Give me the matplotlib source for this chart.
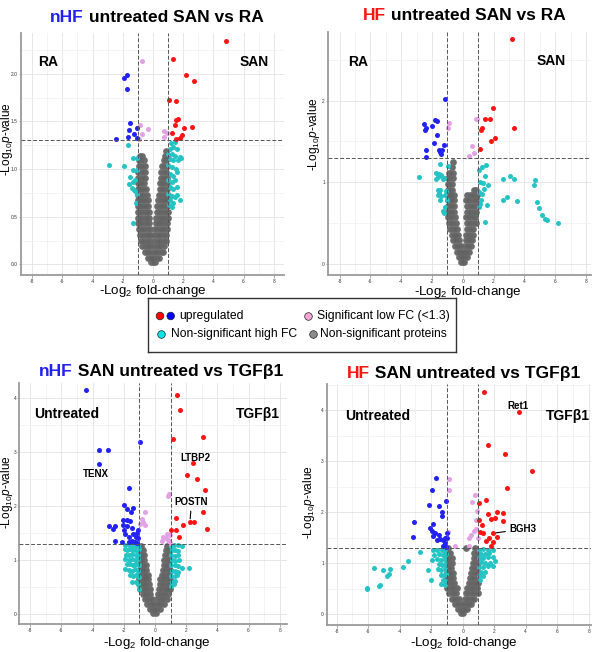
import matplotlib
matplotlib.use('Agg')
import matplotlib.pyplot as plt
from matplotlib.ticker import MultipleLocator, FormatStrFormatter

plt.rcParams['font.family'] = ['Liberation Sans', 'DejaVu Sans']
plt.rcParams['mathtext.fontset'] = 'custom'
plt.rcParams['mathtext.rm'] = 'Liberation Sans'
plt.rcParams['mathtext.it'] = 'Liberation Sans:italic'

# ---- data: (log2 fold-change, -log10 p) ----
p1_red = [(4.81, 2.34), (1.35, 2.15), (2.19, 1.99), (2.74, 1.92), (1.08, 1.72), (1.50, 1.71),
          (1.50, 1.51), (1.68, 1.52), (1.46, 1.46), (2.58, 1.44), (2.08, 1.43), (1.24, 1.38),
          (1.94, 1.36), (1.79, 1.33), (1.52, 1.31)]
p1_blue = [(-1.92, 1.96), (-1.70, 1.99), (-1.74, 1.84), (-1.52, 1.48), (-1.57, 1.41), (-1.08, 1.43),
           (-1.24, 1.37), (-1.68, 1.34), (-1.04, 1.33), (-2.45, 1.32)]
p1_pink = [(-0.72, 2.13), (-0.86, 1.46), (-0.31, 1.42), (-0.75, 1.37), (-0.9, 1.31), (0.73, 1.40),
           (0.95, 1.38), (0.73, 1.34)]
p1_cyan = [(-1.68, 1.25), (-2.89, 1.04), (-1.92, 1.03), (-1.30, 1.12), (-1.08, 1.12), (-1.52, 0.92),
           (-1.30, 0.99), (-1.08, 0.99), (-1.57, 0.84), (-1.34, 0.86), (-1.19, 0.89), (-1.41, 0.80),
           (-1.26, 0.78), (-1.13, 0.76), (-1.08, 0.74), (-1.13, 0.64), (-1.30, 0.43),
           (1.2, 1.27), (1.45, 1.28), (1.1, 1.21), (1.35, 1.23), (1.58, 1.21), (1.02, 1.16),
           (1.25, 1.16), (1.45, 1.14), (1.78, 1.13), (1.12, 1.11), (1.35, 1.09), (1.68, 1.09),
           (1.88, 1.12), (1.02, 1.04), (1.25, 1.02), (1.52, 1.0), (1.12, 0.95), (1.35, 0.93),
           (1.57, 0.97), (1.02, 0.88), (1.25, 0.86), (1.45, 0.88), (1.12, 0.81), (1.35, 0.79),
           (1.57, 0.81), (1.02, 0.74), (1.25, 0.72), (1.45, 0.71), (1.12, 0.68), (1.35, 0.64),
           (1.79, 0.67), (1.6, 0.73), (1.25, 0.6), (1.05, 0.62)]
p1_grey = [
    (0.02, [-0.15, 0.0, 0.15]),
    (0.07, [-0.35, -0.2, -0.05, 0.1, 0.25, 0.4]),
    (0.13, [-0.55, -0.4, -0.25, -0.1, 0.05, 0.2, 0.35, 0.5, 0.65]),
    (0.19, [-0.7, -0.55, -0.4, -0.25, -0.1, 0.1, 0.25, 0.4, 0.55, 0.75]),
    (0.25, [-0.8, -0.65, -0.5, -0.35, -0.2, 0.1, 0.25, 0.4, 0.55, 0.7, 0.85]),
    (0.31, [-0.85, -0.7, -0.55, -0.4, -0.25, -0.12, 0.1, 0.25, 0.4, 0.55, 0.7, 0.88]),
    (0.37, [-0.95, -0.8, -0.65, -0.5, -0.35, -0.2, 0.15, 0.3, 0.45, 0.6, 0.75, 0.92]),
    (0.43, [-1.0, -0.85, -0.7, -0.55, -0.4, -0.25, 0.18, 0.33, 0.48, 0.63, 0.78, 0.95]),
    (0.49, [-1.0, -0.85, -0.7, -0.55, -0.4, -0.25, 0.22, 0.37, 0.52, 0.67, 0.82, 0.98]),
    (0.55, [-1.0, -0.85, -0.7, -0.55, -0.4, -0.28, 0.25, 0.4, 0.55, 0.7, 0.85, 1.0]),
    (0.61, [-1.0, -0.86, -0.72, -0.58, -0.44, -0.3, 0.3, 0.45, 0.6, 0.75, 0.9]),
    (0.67, [-1.0, -0.86, -0.72, -0.58, -0.44, -0.32, 0.35, 0.5, 0.65, 0.8, 0.95]),
    (0.73, [-0.98, -0.84, -0.7, -0.56, -0.42, 0.4, 0.55, 0.7, 0.85, 1.0]),
    (0.79, [-0.98, -0.84, -0.7, -0.56, -0.44, 0.45, 0.6, 0.75, 0.9]),
    (0.85, [-0.98, -0.84, -0.7, -0.56, 0.48, 0.62, 0.76, 0.9]),
    (0.91, [-0.96, -0.82, -0.68, -0.54, 0.5, 0.65, 0.8, 0.95]),
    (0.97, [-0.96, -0.82, -0.68, -0.52, 0.55, 0.7, 0.85]),
    (1.03, [-0.95, -0.8, -0.65, -0.5, 0.6, 0.75, 0.9]),
    (1.09, [-0.92, -0.78, -0.62, 0.7, 0.85]),
    (1.14, [-0.88, -0.74, 0.8, 0.92]),
    (1.19, [0.86]),
]

p2_red = [(3.20, 2.75), (1.99, 1.91), (1.47, 1.77), (1.77, 1.77), (3.35, 1.67), (1.26, 1.67),
          (1.21, 1.64), (2.12, 1.54), (1.86, 1.51), (1.13, 1.41)]
p2_blue = [(-1.15, 2.02), (-2.53, 1.71), (-2.38, 1.67), (-2.42, 1.64), (-1.99, 1.69), (-1.78, 1.76),
           (-1.67, 1.75), (-1.69, 1.58), (-1.88, 1.48), (-2.38, 1.40), (-1.56, 1.40), (-1.34, 1.40),
           (-1.19, 1.46), (-1.41, 1.35), (-1.45, 1.37), (-2.38, 1.31)]
p2_pink = [(-0.92, 1.73), (-0.98, 1.66), (0.85, 1.78), (0.95, 1.77), (0.6, 1.45), (0.7, 1.36),
           (0.38, 1.32)]
p2_cyan = [(-2.81, 1.07), (-1.47, 1.22), (-0.98, 1.2), (-1.73, 1.11), (-1.55, 1.10), (-1.41, 1.09),
           (-1.62, 1.06), (-1.3, 1.04), (-1.2, 1.05), (-1.75, 1.04), (-1.62, 0.91), (-1.5, 0.91),
           (-1.56, 0.87), (-1.41, 0.83), (-1.08, 0.89), (-1.15, 0.85), (-1.3, 0.65), (-1.13, 0.70),
           (-1.2, 0.62), (-1.05, 0.78), (-1.45, 0.78), (-1.6, 0.84),
           (1.23, 1.19), (1.51, 1.21), (1.05, 1.15), (1.45, 1.08), (1.62, 0.97), (1.30, 0.99),
           (1.1, 1.0), (1.35, 0.92), (1.17, 0.78), (1.13, 0.74), (1.6, 0.72), (1.45, 0.52),
           (1.05, 0.88), (1.25, 0.86), (1.08, 0.7), (2.60, 1.04), (3.07, 1.08), (3.33, 1.04),
           (2.60, 0.78), (2.86, 0.82), (3.51, 0.77), (4.69, 1.03), (4.63, 0.97), (4.81, 0.76),
           (4.94, 0.68), (5.15, 0.60), (5.34, 0.55), (5.45, 0.54), (6.21, 0.50)]
p2_grey = [
    (0.02, [-0.1, 0.0, 0.1]),
    (0.08, [-0.25, -0.12, 0.0, 0.12, 0.25]),
    (0.15, [-0.4, -0.27, -0.14, 0.0, 0.14, 0.27, 0.4]),
    (0.22, [-0.52, -0.39, -0.26, -0.13, 0.13, 0.26, 0.39, 0.52]),
    (0.29, [-0.62, -0.49, -0.36, -0.23, 0.2, 0.33, 0.46, 0.6]),
    (0.36, [-0.72, -0.58, -0.44, -0.3, 0.22, 0.36, 0.5, 0.64]),
    (0.43, [-0.8, -0.66, -0.52, -0.38, 0.25, 0.39, 0.53, 0.67]),
    (0.50, [-0.88, -0.74, -0.6, -0.46, 0.25, 0.4, 0.55, 0.7, 0.85]),
    (0.57, [-0.95, -0.81, -0.67, -0.53, 0.2, 0.35, 0.5, 0.65, 0.8]),
    (0.64, [-0.98, -0.84, -0.7, -0.56, 0.25, 0.4, 0.55, 0.7, 0.85]),
    (0.71, [-0.98, -0.84, -0.7, -0.56, 0.3, 0.45, 0.6, 0.75, 0.9]),
    (0.78, [-0.98, -0.84, -0.7, -0.56, 0.2, 0.35, 0.5, 0.65, 0.8, 0.95]),
    (0.84, [-0.98, -0.84, -0.7, -0.58, 0.3, 0.45, 0.6, 0.75, 0.9]),
    (0.91, [-0.96, -0.82, -0.68, 0.7, 0.85]),
    (0.98, [-0.96, -0.82, -0.68]),
    (1.05, [-0.94, -0.8, -0.66]),
    (1.12, [-0.9, -0.76, -0.64]),
    (1.19, [-0.72]),
    (1.25, [-0.66]),
]

p3_red = [(1.39, 4.06), (1.60, 3.78), (1.13, 3.23), (3.09, 3.27), (2.45, 2.79), (2.07, 2.57),
          (2.67, 2.49), (3.20, 2.30), (3.05, 1.89), (1.34, 1.77), (2.24, 1.71), (2.52, 1.70),
          (1.77, 1.65), (3.35, 1.57), (1.04, 1.56), (1.34, 1.56), (1.56, 1.43)]
p3_blue = [(-4.41, 4.15), (-3.58, 3.03), (-2.99, 3.03), (-3.58, 2.77), (-0.96, 3.18), (-1.68, 2.33),
           (-1.98, 2.02), (-1.81, 1.95), (-1.39, 1.96), (-1.56, 1.88), (-2.03, 1.74), (-1.78, 1.74),
           (-1.58, 1.72), (-2.05, 1.65), (-1.8, 1.62), (-1.5, 1.6), (-2.92, 1.63), (-2.71, 1.58),
           (-2.56, 1.62), (-2.56, 1.35), (-2.13, 1.34), (-1.9, 1.48), (-1.7, 1.42), (-1.5, 1.36),
           (-1.3, 1.34), (-1.13, 1.5), (-1.09, 1.55), (-1.06, 1.40), (-1.4, 1.48), (-1.65, 1.33),
           (-1.15, 1.32), (-2.0, 1.55), (-1.25, 1.42)]
p3_pink = [(0.92, 2.23), (0.85, 2.19), (-0.64, 1.88), (-0.85, 1.75), (-0.75, 1.70), (-0.96, 1.66),
           (-0.62, 1.65), (0.75, 1.49), (0.53, 1.43), (0.43, 1.36), (0.85, 1.37), (0.96, 1.46),
           (0.7, 1.40), (0.95, 1.32)]
p3_cyan = [(-1.9, 1.27), (-1.7, 1.28), (-1.5, 1.27), (-1.3, 1.26), (-1.1, 1.25), (-1.95, 1.2),
           (-1.8, 1.18), (-1.6, 1.2), (-1.4, 1.19), (-1.2, 1.18), (-1.05, 1.2), (-1.85, 1.1),
           (-1.65, 1.1), (-1.45, 1.12), (-1.25, 1.1), (-1.08, 1.1), (-1.9, 1.02), (-1.7, 1.0),
           (-1.5, 1.02), (-1.3, 1.0), (-1.12, 1.02), (-1.8, 0.92), (-1.6, 0.93), (-1.4, 0.9),
           (-1.2, 0.92), (-1.05, 0.9), (-1.95, 0.83), (-1.7, 0.82), (-1.5, 0.8), (-1.3, 0.83),
           (-1.1, 0.8), (-1.6, 0.72), (-1.4, 0.7), (-1.2, 0.72), (-1.05, 0.68), (-1.5, 0.6),
           (-1.25, 0.6), (-1.1, 0.55), (-1.05, 0.46),
           (1.05, 1.26), (1.2, 1.27), (1.45, 1.27), (1.7, 1.25), (1.1, 1.18), (1.3, 1.19),
           (1.5, 1.17), (1.05, 1.1), (1.25, 1.08), (1.45, 1.1), (1.1, 1.0), (1.3, 0.98),
           (1.55, 1.0), (1.05, 0.9), (1.25, 0.9), (1.45, 0.88), (1.7, 0.85), (2.2, 0.86),
           (1.1, 0.8), (1.3, 0.8), (1.5, 0.78), (1.05, 0.7), (1.25, 0.7), (1.4, 0.72),
           (1.1, 0.6), (1.3, 0.62), (1.05, 0.52), (1.2, 0.55)]
p3_grey = [
    (0.02, [-0.1, 0.05]),
    (0.10, [-0.3, -0.15, 0.0, 0.15, 0.3]),
    (0.19, [-0.5, -0.35, -0.2, -0.05, 0.1, 0.25, 0.4, 0.55]),
    (0.28, [-0.65, -0.5, -0.35, -0.2, 0.15, 0.3, 0.45, 0.6, 0.75]),
    (0.37, [-0.8, -0.65, -0.5, -0.35, 0.2, 0.35, 0.5, 0.65, 0.8]),
    (0.46, [-0.95, -0.8, -0.65, -0.5, -0.35, 0.25, 0.4, 0.55, 0.7, 0.85, 0.98]),
    (0.55, [-1.0, -0.85, -0.7, -0.55, -0.4, 0.3, 0.45, 0.6, 0.75, 0.9]),
    (0.64, [-1.0, -0.85, -0.7, -0.55, -0.42, 0.35, 0.5, 0.65, 0.8, 0.95]),
    (0.73, [-1.0, -0.86, -0.72, -0.58, -0.45, 0.45, 0.6, 0.75, 0.9]),
    (0.82, [-0.98, -0.84, -0.7, -0.56, 0.5, 0.65, 0.8, 0.95]),
    (0.91, [-0.98, -0.84, -0.7, -0.56, 0.55, 0.7, 0.85]),
    (1.00, [-0.98, -0.84, -0.7, 0.6, 0.75, 0.9]),
    (1.09, [-0.96, -0.82, -0.68, 0.65, 0.8]),
    (1.18, [-0.95, -0.8, 0.7, 0.85]),
    (1.26, [-0.9, 0.75]),
]

p4_red = [(1.38, 4.37), (3.60, 3.97), (1.59, 3.33), (2.67, 3.14), (4.40, 2.81), (2.81, 2.47),
          (1.48, 2.24), (1.02, 2.19), (1.59, 1.97), (2.16, 2.01), (2.58, 1.99), (1.06, 1.85),
          (1.80, 1.87), (2.07, 1.89), (2.58, 1.84), (1.23, 1.76), (1.95, 1.59), (1.31, 1.60),
          (2.16, 1.51), (1.65, 1.49), (1.48, 1.44), (1.90, 1.42), (1.80, 1.35), (1.08, 1.61)]
p4_blue = [(-1.69, 2.68), (-1.95, 2.44), (-2.12, 2.14), (-1.48, 2.13), (-1.06, 2.23), (-1.31, 2.01),
           (-1.31, 1.93), (-3.09, 1.82), (-1.90, 1.78), (-2.07, 1.69), (-1.95, 1.64), (-1.74, 1.60),
           (-1.52, 1.55), (-1.44, 1.48), (-1.27, 1.46), (-1.10, 1.49), (-1.02, 1.59), (-1.0, 1.50),
           (-1.12, 1.39), (-1.22, 1.34), (-1.86, 1.54), (-3.17, 1.51), (-1.6, 1.45), (-1.05, 1.33)]
p4_pink = [(-0.85, 2.65), (-0.89, 2.44), (0.80, 2.34), (0.59, 2.21), (0.89, 2.03), (0.85, 1.85),
           (0.85, 1.67), (0.74, 1.63), (0.53, 1.56), (0.38, 1.49), (0.42, 1.34), (-0.47, 1.34),
           (0.95, 1.49), (-0.9, 1.62)]
p4_cyan = [(-6.07, 0.52), (-6.07, 0.49), (-5.33, 0.56), (-5.25, 0.57), (-5.65, 0.9), (-5.04, 0.86),
           (-4.83, 0.75), (-4.7, 0.8), (-4.59, 0.88), (-3.81, 0.93), (-3.45, 1.05), (-2.71, 1.22),
           (-2.22, 0.86), (-2.01, 0.67),
           (-1.9, 1.26), (-1.6, 1.27), (-1.3, 1.27), (-1.1, 1.25), (-1.8, 1.17), (-1.5, 1.18),
           (-1.25, 1.17), (-1.05, 1.18), (-1.95, 1.07), (-1.6, 1.08), (-1.35, 1.06), (-1.15, 1.08),
           (-1.5, 0.98), (-1.3, 0.97), (-1.1, 0.98), (-1.55, 0.88), (-1.35, 0.87), (-1.15, 0.88),
           (-1.4, 0.78), (-1.2, 0.78), (-1.05, 0.8), (-1.25, 0.68), (-1.1, 0.66), (-1.4, 0.6),
           (-1.15, 0.58),
           (1.05, 1.27), (1.3, 1.28), (1.6, 1.27), (1.95, 1.26), (1.15, 1.18), (1.4, 1.19),
           (1.7, 1.2), (1.05, 1.1), (1.3, 1.1), (1.6, 1.12), (1.9, 1.12), (2.05, 1.05),
           (1.15, 1.02), (1.45, 1.0), (1.75, 1.0), (1.05, 0.92), (1.3, 0.92), (1.6, 0.95),
           (1.9, 0.95), (1.15, 0.84), (1.45, 0.83), (1.05, 0.75), (1.3, 0.76), (1.1, 0.67)]
p4_grey = [
    (0.02, [-0.1, 0.05]),
    (0.11, [-0.3, -0.15, 0.0, 0.15, 0.3]),
    (0.21, [-0.5, -0.35, -0.2, -0.05, 0.1, 0.25, 0.4, 0.55]),
    (0.31, [-0.7, -0.55, -0.4, -0.25, 0.15, 0.3, 0.45, 0.6, 0.75]),
    (0.41, [-0.85, -0.7, -0.55, -0.4, 0.2, 0.35, 0.5, 0.65, 0.8, 0.95]),
    (0.51, [-0.98, -0.83, -0.68, -0.53, -0.38, 0.3, 0.45, 0.6, 0.75, 0.9]),
    (0.61, [-1.0, -0.85, -0.7, -0.55, 0.4, 0.55, 0.7, 0.85, 1.0]),
    (0.71, [-1.0, -0.86, -0.72, -0.58, 0.45, 0.6, 0.75, 0.9]),
    (0.81, [-1.0, -0.86, -0.72, -0.6, 0.55, 0.7, 0.85, 1.0]),
    (0.91, [-1.0, -0.86, -0.72, 0.6, 0.75, 0.9]),
    (1.01, [-0.98, -0.84, -0.7, 0.65, 0.8, 0.95]),
    (1.11, [-0.98, -0.84, -0.7, 0.7, 0.85]),
    (1.21, [-0.96, -0.82, 0.75, 0.9]),
    (1.30, [-0.92, 0.2, 0.8]),
]

RED = '#ff1414'
BLUE = '#2222f5'
CYAN = '#25c4c4'
PINK = '#e2a2e4'
GREY_LIGHT = '#727272'
GREY_DARK = '#3c3c3c'

W, H = 592, 652
fig = plt.figure(figsize=(W / 100, H / 100), dpi=100)


def fx(px):
    return px / W


def fy(py):
    return 1 - py / H


def unzip(pairs):
    return [p[0] for p in pairs], [p[1] for p in pairs]


def rows_to_xy(rows):
    xs, ys = [], []
    for y, row in rows:
        for x in row:
            xs.append(x)
            ys.append(y)
    return xs, ys


def volcano(box, xlim, ylim, ystep, yfmt, grey, cyan, pink, blue, red):
    left, top, right, bottom = box
    ax = fig.add_axes([fx(left), fy(bottom), (right - left) / W, (bottom - top) / H])
    ax.set_xlim(*xlim)
    ax.set_ylim(*ylim)
    ax.xaxis.set_major_locator(MultipleLocator(2))
    ax.xaxis.set_minor_locator(MultipleLocator(1))
    ax.yaxis.set_major_locator(MultipleLocator(ystep))
    ax.yaxis.set_minor_locator(MultipleLocator(ystep / 2))
    ax.yaxis.set_major_formatter(FormatStrFormatter(yfmt))
    ax.xaxis.set_major_formatter(FormatStrFormatter('%d'))
    ax.grid(which='major', color='#e2e2e2', lw=0.6)
    ax.grid(which='minor', color='#efefef', lw=0.5)
    ax.set_axisbelow(True)
    for s in ['top', 'right']:
        ax.spines[s].set_visible(False)
    for s in ['left', 'bottom']:
        ax.spines[s].set_color('#9a9a9a')
        ax.spines[s].set_linewidth(1.3)
    ax.tick_params(which='major', labelsize=3.5, length=2, width=0.5, color='#888888',
                   labelcolor='#333333', pad=0.8)
    ax.tick_params(axis='y', which='major', length=1.5, pad=0.5)
    ax.tick_params(which='minor', length=0)

    # grey cloud: solid base plus a faint darker core
    gx, gy = rows_to_xy(grey)
    ax.scatter(gx, gy, s=24, color=GREY_LIGHT, linewidths=0, zorder=2)
    ax.scatter(gx, gy, s=14, color=GREY_DARK, alpha=0.12, linewidths=0, zorder=2)
    for pts, col in [(cyan, CYAN), (pink, PINK), (blue, BLUE), (red, RED)]:
        x, y = unzip(pts)
        ax.scatter(x, y, s=13, color=col, linewidths=0, zorder=3)

    dash = dict(color='#555555', lw=0.7, ls=(0, (4, 2)), zorder=4)
    ax.axvline(-1, **dash)
    ax.axvline(1, **dash)
    ax.axhline(1.3, **dash)
    return ax


def title(ax, x, y, first, color, rest):
    t = fig.text(fx(x), fy(y), first, color=color, fontsize=12.5, fontweight='bold',
                 ha='left', va='center')
    ax.annotate(rest, xy=(1, 0.5), xycoords=t, ha='left', va='center',
                fontsize=12.5, fontweight='bold', color='black')


ax1 = volcano((20.7, 33, 284, 275.3), (-8.76, 8.68), (-0.115, 2.427), 0.5, '%.1f',
              p1_grey, p1_cyan, p1_pink, p1_blue, p1_red)
ax2 = volcano((327.7, 32.3, 591, 275.3), (-8.77, 8.33), (-0.138, 2.836), 1, '%d',
              p2_grey, p2_cyan, p2_pink, p2_blue, p2_red)
ax3 = volcano((19.3, 383.3, 287, 624.3), (-8.7, 8.46), (-0.19, 4.27), 1, '%d',
              p3_grey, p3_cyan, p3_pink, p3_blue, p3_red)
ax4 = volcano((326.7, 384, 591, 625), (-8.63, 8.15), (-0.21, 4.52), 1, '%d',
              p4_grey, p4_cyan, p4_pink, p4_blue, p4_red)

title(ax1, 50, 17, 'nHF', BLUE, ' untreated SAN vs RA')
title(ax2, 362.7, 16, 'HF', RED, ' untreated SAN vs RA')
title(ax3, 39.3, 371.7, 'nHF', BLUE, ' SAN untreated vs TGF\u03b21')
title(ax4, 346.7, 373.3, 'HF', RED, ' SAN untreated vs TGF\u03b21')

# axis labels
xlab = r'-Log$_{2}$ fold-change'
ylab = r'-Log$_{10}$$\it{p}$-value'
for cx, cy in [(152.7, 291), (467.5, 292), (156.7, 643), (463.8, 643)]:
    fig.text(fx(cx), fy(cy), xlab, fontsize=9.6, ha='center', va='center')
for cx, cy in [(6.8, 139), (314.4, 134), (6.8, 492), (309.2, 502)]:
    fig.text(fx(cx), fy(cy), ylab, fontsize=8.6, ha='center', va='center', rotation=90)

# side labels
side = dict(fontsize=10, fontweight='bold', ha='center', va='center')
fig.text(fx(48), fy(62), 'RA', **side)
fig.text(fx(254), fy(62), 'SAN', **side)
fig.text(fx(358.5), fy(62), 'RA', **side)
fig.text(fx(551), fy(61), 'SAN', **side)
fig.text(fx(67), fy(414), 'Untreated', **side)
fig.text(fx(257.5), fy(414), 'TGF\u03b21', **side)
fig.text(fx(377.5), fy(416), 'Untreated', **side)
fig.text(fx(568), fy(416), 'TGF\u03b21', **side)

# gene labels
gene = dict(fontsize=7, fontweight='bold', ha='center', va='center')
fig.text(fx(95.5), fy(474), 'TENX', **gene)
fig.text(fx(195.5), fy(458), 'LTBP2', **gene)
fig.text(fx(518), fy(406), 'Ret1', **gene)
ax3.annotate('POSTN', xy=(2.24, 1.71), xytext=(fx(191.5), fy(502)), textcoords='figure fraction',
             arrowprops=dict(arrowstyle='-', color='black', lw=0.8, shrinkA=1, shrinkB=2), **gene)
ax4.annotate('BGH3', xy=(1.95, 1.59), xytext=(fx(523), fy(529)), textcoords='figure fraction',
             arrowprops=dict(arrowstyle='-', color='black', lw=0.8, shrinkA=1, shrinkB=2), **gene)

# legend box
lg = fig.add_axes([fx(148), fy(352), 308 / W, 54 / H])
lg.set_xlim(0, 308)
lg.set_ylim(0, 54)
lg.set_xticks([])
lg.set_yticks([])
for s in lg.spines.values():
    s.set_color('#333333')
    s.set_linewidth(1.0)
key = dict(s=30, edgecolors='#222222', linewidths=0.5)
lg.scatter([12, 22.7], [36, 36], c=['#ff0000', '#0000ff'], **key)
lg.scatter([12.7], [18], c=['#00e5e5'], **key)
lg.scatter([160.3], [36], c=['#f2a6d8'], **key)
lg.scatter([165.3], [18], c=['#8c8c8c'], **key)
lt = dict(fontsize=8.7, va='center', ha='left')
lg.text(31, 36, 'upregulated', **lt)
lg.text(22.7, 18, 'Non-significant high FC', **lt)
lg.text(168.7, 36, 'Significant low FC (<1.3)', **lt)
lg.text(172, 18, 'Non-significant proteins', **lt)

fig.savefig('out.png', dpi=100)
